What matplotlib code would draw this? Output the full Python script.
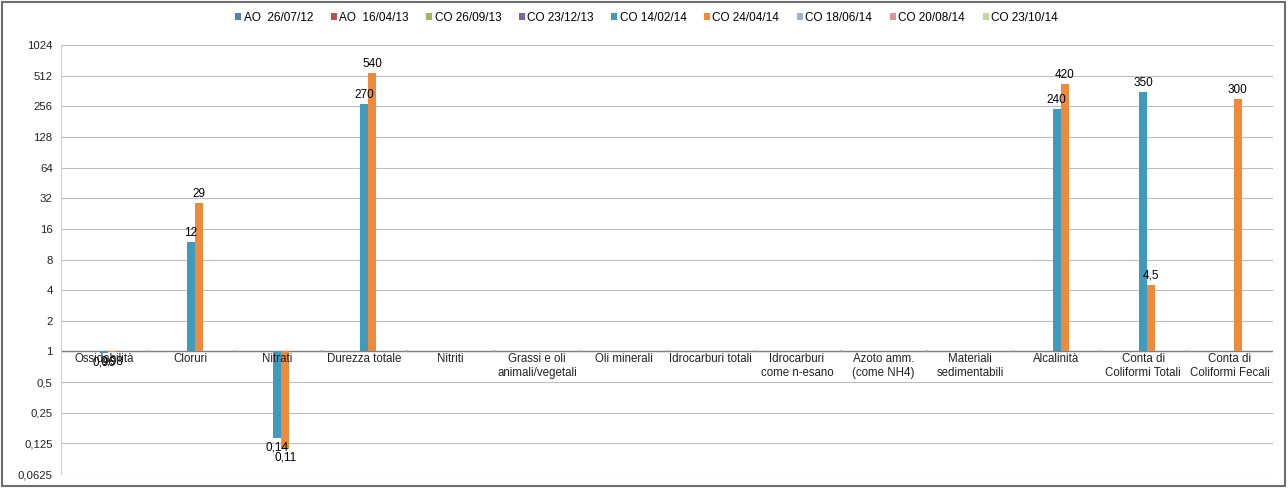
import numpy as np
import matplotlib
matplotlib.use("Agg")
import matplotlib.pyplot as plt
from matplotlib.patches import Patch, Rectangle
from matplotlib.ticker import FixedLocator, FixedFormatter

plt.rcParams['font.family'] = ['Liberation Sans', 'DejaVu Sans']

categories = ["Ossidabilità", "Cloruri", "Nitrati", "Durezza totale", "Nitriti",
              "Grassi e oli\nanimali/vegetali", "Oli minerali", "Idrocarburi totali",
              "Idrocarburi\ncome n-esano", "Azoto amm.\n(come NH4)", "Materiali\nsedimentabili",
              "Alcalinità", "Conta di\nColiformi Totali", "Conta di\nColiformi Fecali"]

series_names = ["AO  26/07/12", "AO  16/04/13", "CO 26/09/13", "CO 23/12/13", "CO 14/02/14",
                "CO 24/04/14", "CO 18/06/14", "CO 20/08/14", "CO 23/10/14"]
series_colors = ["#4F81BD", "#C0504D", "#9BBB59", "#8064A2", "#3E9BBE",
                 "#EE8A3A", "#95B3D7", "#D99694", "#C3D69B"]

nan = np.nan
empty = [nan] * 14
co_14_02_14 = [0.96, 12, 0.14, 270, nan, nan, nan, nan, nan, nan, nan, 240, 350, nan]
co_24_04_14 = [0.98, 29, 0.11, 540, nan, nan, nan, nan, nan, nan, nan, 420, 4.5, 300]
series_values = [empty, empty, empty, empty, co_14_02_14, co_24_04_14, empty, empty, empty]

ytick_vals = [0.0625, 0.125, 0.25, 0.5, 1, 2, 4, 8, 16, 32, 64, 128, 256, 512, 1024]
ytick_labels = ["0,0625", "0,125", "0,25", "0,5", "1", "2", "4", "8", "16", "32",
                "64", "128", "256", "512", "1024"]


def fmt(v):
    return ("%g" % v).replace(".", ",")


W, H = 1288, 488
fig = plt.figure(figsize=(W / 100, H / 100), dpi=100)
left_px, right_px, top_px, bot_px = 61, 1273, 45, 474
ax = fig.add_axes([left_px / W, 1 - bot_px / H, (right_px - left_px) / W, (bot_px - top_px) / H])

ax.set_yscale('log', base=2)
ax.set_ylim(0.0625, 1024)
ax.set_xlim(-0.5, len(categories) - 0.5)

bw = 0.092
x = np.arange(len(categories))
for i, (vals, col) in enumerate(zip(series_values, series_colors)):
    off = (i - 4) * bw
    for xi, v in zip(x, vals):
        if np.isnan(v):
            continue
        ax.bar(xi + off, v - 1, bottom=1, width=bw, color=col, zorder=3, linewidth=0)
        if v >= 1:
            ax.text(xi + off, v * 1.07, fmt(v), ha='center', va='bottom', fontsize=8.5, zorder=4)
        else:
            ax.text(xi + off, v / 1.07, fmt(v), ha='center', va='top', fontsize=8.5, zorder=4)

ax.yaxis.set_major_locator(FixedLocator(ytick_vals))
ax.yaxis.set_major_formatter(FixedFormatter(ytick_labels))
ax.yaxis.set_minor_locator(FixedLocator([]))
ax.tick_params(axis='y', length=0, labelsize=8.2, pad=6, colors='#222222')
ax.grid(axis='y', color='#BDBDBD', linewidth=0.8, zorder=0)

ax.set_xticks([])
for s in ['top', 'right', 'bottom']:
    ax.spines[s].set_visible(False)
ax.spines['left'].set_color('#D0D0D0')
ax.axhline(1, color='#808080', linewidth=1, zorder=2)
for b in np.arange(0.5, len(categories) - 0.5, 1):
    ax.plot([b, b], [1, 1.04], color='#A0A0A0', linewidth=0.8, zorder=2)

for xi, c in zip(x, categories):
    ax.text(xi, 0.955, c, ha='center', va='top', fontsize=8.3, color='#222222',
            linespacing=1.15, zorder=5)

handles = [Patch(facecolor=c, edgecolor='none') for c in series_colors]
fig.legend(handles, series_names, loc='center', bbox_to_anchor=(0.502, 1 - 18 / H), ncol=9,
           frameon=False, fontsize=8.5, handlelength=0.5, handleheight=0.5,
           handletextpad=0.2, columnspacing=1.5)

fig.patches.append(Rectangle((2 / W, 2 / H), 1 - 5 / W, 1 - 4 / H, transform=fig.transFigure,
                             fill=False, edgecolor='#6E6E6E', linewidth=1.5))

fig.savefig("out.png", dpi=100)
